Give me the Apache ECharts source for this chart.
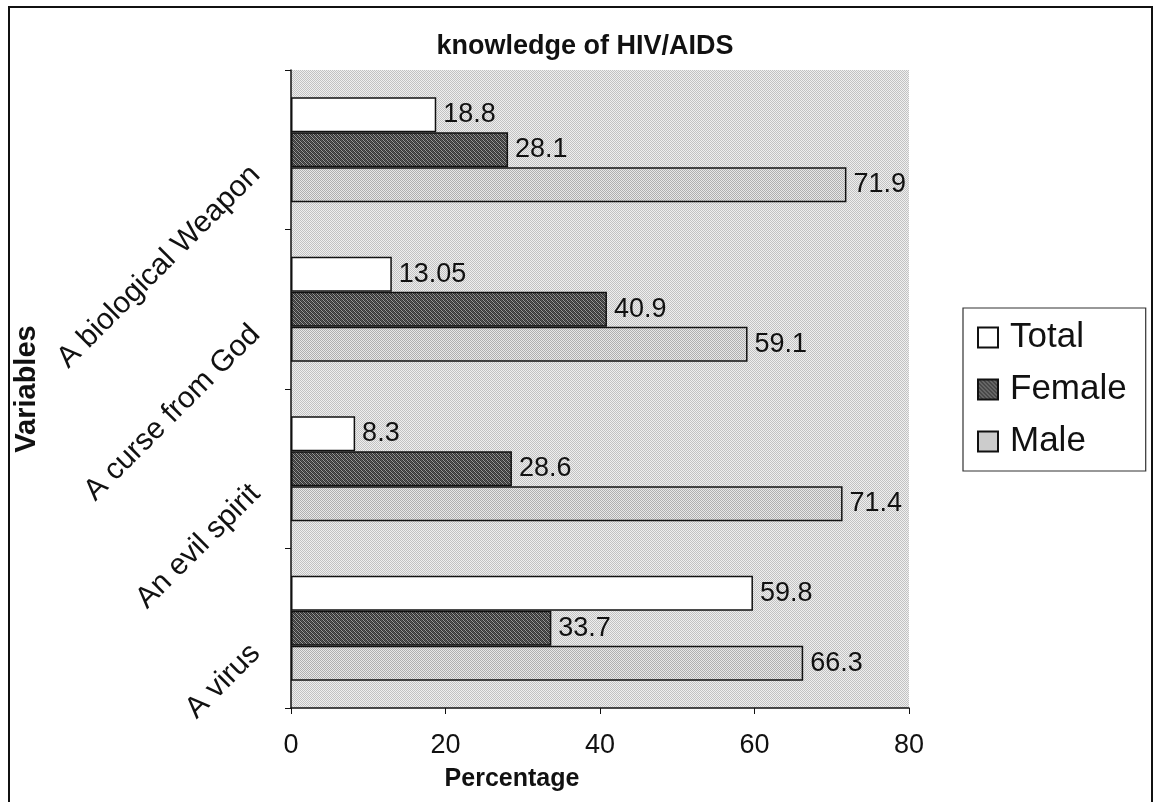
<!DOCTYPE html>
<html>
<head>
<meta charset="utf-8">
<style>
  html, body { margin: 0; padding: 0; background: #ffffff; }
  #chart { width: 1156px; height: 802px; }
</style>
<script src="https://cdn.jsdelivr.net/npm/echarts@6/dist/echarts.min.js"></script>
</head>
<body>
<div id="chart"></div>
<script>
// ---- Data ----
const categories = ['A virus', 'An evil spirit', 'A curse from God', 'A biological Weapon'];
const seriesNames = ['Total', 'Female', 'Male'];
const totalValues = [59.8, 8.3, 13.05, 18.8];
const femaleValues = [33.7, 28.6, 40.9, 28.1];
const maleValues = [66.3, 71.4, 59.1, 71.9];
const xTicks = { min: 0, max: 80, interval: 20 };

// ---- Patterns (style only) ----
function makePattern(size, draw) {
  const c = document.createElement('canvas');
  c.width = size; c.height = size;
  const ctx = c.getContext('2d');
  draw(ctx);
  return { image: c, repeat: 'repeat' };
}
const bgPattern = makePattern(2, ctx => {
  ctx.fillStyle = '#efefef'; ctx.fillRect(0, 0, 2, 2);
  ctx.fillStyle = '#c2c2c2'; ctx.fillRect(0, 0, 1, 1); ctx.fillRect(1, 1, 1, 1);
});
const malePattern = makePattern(2, ctx => {
  ctx.fillStyle = '#e8e8e8'; ctx.fillRect(0, 0, 2, 2);
  ctx.fillStyle = '#b0b0b0'; ctx.fillRect(0, 0, 1, 1); ctx.fillRect(1, 1, 1, 1);
});
const femalePattern = makePattern(4, ctx => {
  ctx.fillStyle = '#9a9a9a'; ctx.fillRect(0, 0, 4, 4);
  ctx.fillStyle = '#333333';
  for (let i = 0; i < 4; i++) { ctx.fillRect(i, i, 1, 1); ctx.fillRect((i + 2) % 4, i, 1, 1); }
  ctx.fillStyle = '#5e5e5e';
  for (let i = 0; i < 4; i++) { ctx.fillRect((i + 1) % 4, i, 1, 1); }
});

const FONT = '"Liberation Sans", Arial, sans-serif';
const chart = echarts.init(document.getElementById('chart'), null, { renderer: 'canvas' });

const labelCommon = {
  show: true, position: 'right', distance: 7,
  color: '#111', fontFamily: FONT, fontSize: 27,
  formatter: p => String(p.value)
};
const barCommon = {
  type: 'bar', barWidth: 35, barGap: '0%',
  label: labelCommon, emphasis: { disabled: true }
};

chart.setOption({
  animation: false,
  backgroundColor: '#ffffff',
  title: {
    text: 'knowledge of HIV/AIDS',
    left: 585, top: 33, textAlign: 'center', padding: 0,
    textStyle: { fontFamily: FONT, fontSize: 27, fontWeight: 'bold', color: '#111' }
  },
  graphic: [{
    type: 'rect', silent: true, z: -1,
    shape: { x: 9, y: 7, width: 1143, height: 820 },
    style: { fill: null, stroke: '#111', lineWidth: 2 }
  }],
  legend: {
    orient: 'vertical', left: 963, top: 308,
    padding: [12, 19, 12, 14], itemGap: 17,
    itemWidth: 20, itemHeight: 20, icon: 'rect',
    borderColor: '#333', borderWidth: 1.2, backgroundColor: '#fff',
    textStyle: { fontFamily: FONT, fontSize: 35, color: '#111', lineHeight: 35, padding: [0, 0, 0, 7] },
    data: seriesNames
  },
  grid: {
    left: 291, right: 247, top: 70, bottom: 94,
    show: true, backgroundColor: bgPattern, borderWidth: 0
  },
  xAxis: {
    type: 'value', min: xTicks.min, max: xTicks.max, interval: xTicks.interval,
    name: 'Percentage', nameLocation: 'middle', nameGap: 59,
    nameTextStyle: { fontFamily: FONT, fontSize: 25, fontWeight: 'bold', color: '#111', padding: [0, 176, 0, 0] },
    axisLine: { show: true, lineStyle: { color: '#111', width: 1.5 } },
    axisTick: { show: true, length: 6, lineStyle: { color: '#111' } },
    axisLabel: { fontFamily: FONT, fontSize: 27, color: '#111', margin: 24 },
    splitLine: { show: false }
  },
  yAxis: {
    type: 'category', data: categories,
    name: 'Variables', nameLocation: 'middle', nameGap: 246,
    nameTextStyle: { fontFamily: FONT, fontSize: 29, fontWeight: 'bold', color: '#111' },
    axisLine: { show: true, lineStyle: { color: '#111', width: 1.5 } },
    axisTick: { show: true, length: 6, lineStyle: { color: '#111' } },
    axisLabel: {
      fontFamily: FONT, fontSize: 30, color: '#111', rotate: 45,
      margin: 56, verticalAlign: 'top', padding: [14, 0, 0, 0]
    },
    splitLine: { show: false }
  },
  series: [
    Object.assign({}, barCommon, {
      name: seriesNames[0], data: totalValues,
      itemStyle: { color: '#ffffff', borderColor: '#111', borderWidth: 1.5 }
    }),
    Object.assign({}, barCommon, {
      name: seriesNames[1], data: femaleValues,
      itemStyle: { color: femalePattern, borderColor: '#111', borderWidth: 1.5 }
    }),
    Object.assign({}, barCommon, {
      name: seriesNames[2], data: maleValues,
      itemStyle: { color: malePattern, borderColor: '#111', borderWidth: 1.5 }
    })
  ]
});
</script>
</body>
</html>
